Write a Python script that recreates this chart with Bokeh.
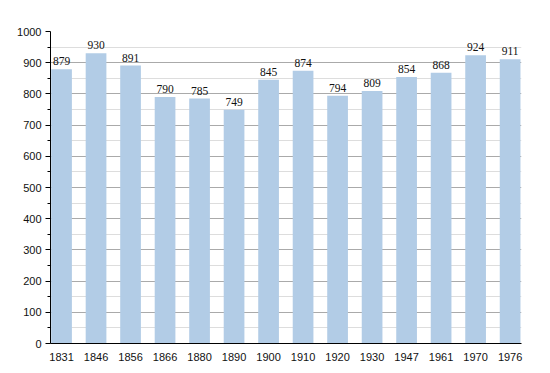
from bokeh.plotting import figure
from bokeh.models import ColumnDataSource, FixedTicker, Range1d, LabelSet
from bokeh.embed import file_html
from bokeh.resources import INLINE

years = ["1831", "1846", "1856", "1866", "1880", "1890", "1900", "1910", "1920", "1930", "1947", "1961", "1970", "1976"]
population = [879, 930, 891, 790, 785, 749, 845, 874, 794, 809, 854, 868, 924, 911]
y_ticks = [0, 100, 200, 300, 400, 500, 600, 700, 800, 900, 1000]

FONT = "Arial"

xs = list(range(len(years)))
src = ColumnDataSource(dict(x=xs, top=population, label=[str(v) for v in population]))

p = figure(frame_width=471, frame_height=312, output_backend="svg", toolbar_location=None,
           x_range=Range1d(-0.32, 13.33), y_range=Range1d(0, 1000),
           min_border_left=50, min_border_top=31, min_border_right=21, min_border_bottom=22)
p.outline_line_color = None
p.background_fill_color = "white"

p.vbar(x="x", top="top", width=0.6, source=src, fill_color="#b2cce6", line_color=None)

labels = LabelSet(x="x", y="top", text="label", source=src, text_align="center",
                  text_baseline="bottom", y_offset=4, text_font=FONT,
                  text_font_size="11.5px", text_color="#111111")
p.add_layout(labels)

p.xaxis.ticker = FixedTicker(ticks=xs)
p.xaxis.major_label_overrides = {i: y for i, y in enumerate(years)}
p.xaxis.major_tick_line_color = None
p.xaxis.minor_tick_line_color = None
p.xaxis.axis_line_color = "black"
p.xaxis.major_label_standoff = 3
p.xaxis.major_label_text_font = FONT
p.xaxis.major_label_text_font_size = "11px"
p.xaxis.major_label_text_color = "#111111"

p.yaxis.ticker = FixedTicker(ticks=y_ticks, minor_ticks=[v + 50 for v in y_ticks[:-1]])
p.yaxis.axis_line_color = "black"
p.yaxis.major_tick_out = 5
p.yaxis.major_tick_in = 0
p.yaxis.minor_tick_out = 3
p.yaxis.minor_tick_in = 0
p.yaxis.major_label_standoff = 4
p.yaxis.major_label_text_font = FONT
p.yaxis.major_label_text_font_size = "11px"
p.yaxis.major_label_text_color = "#111111"

p.xgrid.grid_line_color = None
p.ygrid.grid_line_color = "#aaaaaa"
p.ygrid.minor_grid_line_color = "#dddddd"

open("out.html", "w").write(file_html(p, INLINE))
